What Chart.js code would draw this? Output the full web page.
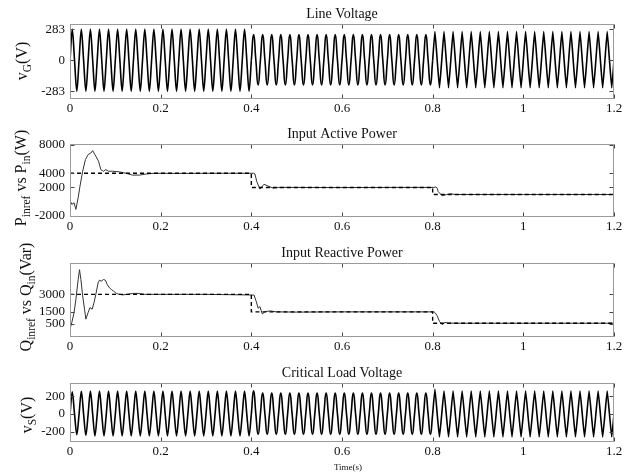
<!DOCTYPE html>
<html><head><meta charset="utf-8">
<script src="https://cdn.jsdelivr.net/npm/chart.js@4.4.1/dist/chart.umd.min.js"></script>
<style>
html,body{margin:0;padding:0;background:#fff;}
#wrap{position:relative;width:636px;height:476px;overflow:hidden;background:#fff;}
canvas{position:absolute;left:0;}
</style></head><body>
<div id="wrap">
<canvas id="c1" width="636" height="120" style="top:0px"></canvas>
<canvas id="c2" width="636" height="120" style="top:120px"></canvas>
<canvas id="c3" width="636" height="120" style="top:240px"></canvas>
<canvas id="c4" width="636" height="116" style="top:360px"></canvas>
</div>
<script>
// ---------------- DATA ----------------
const xTicks = [0, 0.2, 0.4, 0.6, 0.8, 1, 1.2];
const xTickLabels = ['0', '0.2', '0.4', '0.6', '0.8', '1', '1.2'];
const cyclePeriod = 0.02; // 50 Hz

// Line voltage: positive / negative peak of each cycle (60 cycles)
const vGPos = [283,283,283,283,283,283,283,283,283,283,283,283,283,283,283,283,283,283,283,283,
               236,236,236,236,236,236,236,236,236,236,236,236,236,236,236,236,236,236,236,236,
               262,262,262,262,262,262,262,262,262,262,262,262,262,262,262,262,262,262,262,262];
const vGNeg = [-283,-283,-283,-283,-283,-283,-283,-283,-283,-283,-283,-283,-283,-283,-283,-283,-283,-283,-283,-283,
               -226,-226,-226,-226,-226,-226,-226,-226,-226,-226,-226,-226,-226,-226,-226,-226,-226,-226,-226,-226,
               -252,-252,-252,-252,-252,-252,-252,-252,-252,-252,-252,-252,-252,-252,-252,-252,-252,-252,-252,-252];
const vGTicks = [-283, 0, 283];

// Critical load voltage
const vSPos = [250,256,258,258,258,258,258,258,258,258,258,258,258,258,258,258,258,258,258,258,
               262,237,237,237,237,237,237,237,237,237,237,237,237,237,237,237,237,237,237,237,
               280,260,260,260,260,260,260,260,260,260,260,260,260,260,260,260,260,260,260,260];
const vSNeg = [-232,-240,-246,-246,-246,-246,-246,-246,-246,-246,-246,-246,-246,-246,-246,-246,-246,-246,-246,-246,
               -228,-228,-228,-228,-228,-228,-228,-228,-228,-228,-228,-228,-228,-228,-228,-228,-228,-228,-228,-228,
               -258,-258,-258,-258,-258,-258,-258,-258,-258,-258,-258,-258,-258,-258,-258,-258,-258,-258,-258,-258];
const vSTicks = [-200, 0, 200];

// Input active power
const pTime  = [0,0.004,0.009,0.013,0.018,0.022,0.028,0.034,0.040,0.046,0.050,0.055,0.059,0.063,0.068,0.074,0.079,0.085,0.094,0.109,0.124,0.138,0.153,0.168,0.186,0.25,0.3,0.35,0.405,0.408,0.412,0.419,0.428,0.439,0.449,0.46,0.5,0.6,0.7,0.803,0.807,0.81,0.812,0.821,0.831,0.84,0.85,0.9,1.0,1.2];
const pValue = [200,-400,-170,-1100,540,2180,4300,5930,6640,6870,7200,6640,6170,5700,4520,4290,4520,4290,4290,4200,4000,3740,3740,3900,4000,3980,4000,4000,4000,3900,2830,1760,2450,2130,1900,2000,2000,1980,2000,2000,2080,1900,1430,820,1000,1100,1000,1000,1000,1000];
const pRefTime  = [0, 0.4, 0.4, 0.8, 0.8, 1.2];
const pRefValue = [4000, 4000, 2000, 2000, 1000, 1000];
const pTicks = [-2000, 2000, 4000, 8000];

// Input reactive power
const qTime  = [0,0.004,0.009,0.013,0.018,0.021,0.024,0.028,0.032,0.035,0.040,0.044,0.049,0.053,0.057,0.062,0.065,0.069,0.074,0.078,0.082,0.087,0.091,0.096,0.102,0.109,0.116,0.127,0.138,0.150,0.164,0.2,0.3,0.406,0.411,0.415,0.419,0.424,0.431,0.442,0.455,0.5,0.6,0.7,0.803,0.806,0.81,0.815,0.821,0.827,0.834,0.85,0.9,1.2];
const qValue = [36,595,1440,2575,4270,5110,4270,2860,1730,880,1440,1860,1730,2290,3000,3980,4210,4130,4270,4210,3850,3560,3420,3280,3080,3000,2950,3000,3080,3080,3000,3000,3000,2940,2370,1810,1950,1330,1530,1580,1500,1480,1500,1500,1500,1400,1160,680,400,600,540,530,530,530];
const qRefTime  = [0, 0.4, 0.4, 0.8, 0.8, 1.2];
const qRefValue = [3000, 3000, 1500, 1500, 530, 530];
const qTicks = [500, 1500, 3000];

// ---------------- HELPERS ----------------
Chart.defaults.font.family = '"Liberation Serif", "Times New Roman", serif';
Chart.defaults.color = '#111';

function wavePoints(pos, neg, c0, c1) {
  const pts = [];
  for (let k = c0; k < c1; k++) {
    const t0 = k * cyclePeriod;
    pts.push({x: t0, y: 0});
    pts.push({x: t0 + cyclePeriod / 4, y: pos[k]});
    pts.push({x: t0 + cyclePeriod / 2, y: 0});
    pts.push({x: t0 + 3 * cyclePeriod / 4, y: neg[k]});
  }
  pts.push({x: c1 * cyclePeriod, y: 0});
  return pts;
}
function pairs(xs, ys) { return xs.map((x, i) => ({x: x, y: ys[i]})); }

function waveDatasets(pos, neg) {
  const base = {borderColor: '#000', borderWidth: 1.6, pointRadius: 0, fill: false};
  return [
    Object.assign({}, base, {data: wavePoints(pos, neg, 0, 20), cubicInterpolationMode: 'monotone'}),
    Object.assign({}, base, {data: wavePoints(pos, neg, 20, 40), tension: 0.55}),
    Object.assign({}, base, {data: wavePoints(pos, neg, 40, 60), tension: 0.12})
  ];
}
function powerDatasets(rt, rv, t, v) {
  return [
    {data: pairs(rt, rv), borderColor: '#000', borderWidth: 1.4, borderDash: [4, 3], pointRadius: 0, tension: 0},
    {data: pairs(t, v), borderColor: '#333', borderWidth: 1, pointRadius: 0, tension: 0}
  ];
}

const decor = {
  id: 'decor',
  afterDraw(chart, args, o) {
    const ctx = chart.ctx, a = chart.chartArea, xs = chart.scales.x, ys = chart.scales.y;
    ctx.save();
    const L = Math.round(a.left) + 0.5, R = Math.round(a.right) - 0.5;
    const T = Math.round(a.top) + 0.5, B = Math.round(a.bottom) - 0.5;
    // inner ticks
    ctx.strokeStyle = '#444'; ctx.lineWidth = 1;
    ctx.beginPath();
    xTicks.forEach(v => {
      const px = Math.round(xs.getPixelForValue(v)) + 0.5;
      ctx.moveTo(px, T); ctx.lineTo(px, T + 4);
      ctx.moveTo(px, B); ctx.lineTo(px, B - 4);
    });
    o.yTicks.forEach(v => {
      const py = Math.round(ys.getPixelForValue(v)) + 0.5;
      ctx.moveTo(L, py); ctx.lineTo(L + 4, py);
      ctx.moveTo(R, py); ctx.lineTo(R - 4, py);
    });
    ctx.stroke();
    // frame
    ctx.strokeStyle = '#9a9a9a';
    ctx.strokeRect(L, T, R - L, B - T);
    // title
    ctx.fillStyle = '#111';
    ctx.font = '14px "Liberation Serif"';
    ctx.textAlign = 'center'; ctx.textBaseline = 'alphabetic';
    ctx.fillText(o.title, (a.left + a.right) / 2, a.top - 6);
    // y label with subscripts (rotated)
    ctx.translate(o.labelX, o.labelY);
    ctx.rotate(-Math.PI / 2);
    const mainFont = '16px "Liberation Serif"', subFont = '11.5px "Liberation Serif"';
    let total = 0;
    o.label.forEach(p => { ctx.font = p.sub ? subFont : mainFont; total += ctx.measureText(p.t).width; });
    let cx = -total / 2;
    ctx.textAlign = 'left';
    o.label.forEach(p => {
      ctx.font = p.sub ? subFont : mainFont;
      ctx.fillText(p.t, cx, p.sub ? 4 : 0);
      cx += ctx.measureText(p.t).width;
    });
    ctx.restore();
    if (o.xTitle) {
      ctx.save();
      ctx.fillStyle = '#111';
      ctx.font = '9px "Liberation Serif"';
      ctx.textAlign = 'center'; ctx.textBaseline = 'middle';
      ctx.fillText(o.xTitle, o.xTitleX, o.xTitleY);
      ctx.restore();
    }
  }
};

function makeChart(id, datasets, yMin, yMax, yTicks, padTop, xAxisH, deco) {
  deco.yTicks = yTicks;
  return new Chart(document.getElementById(id), {
    type: 'line',
    data: {datasets: datasets},
    options: {
      responsive: false, animation: false, devicePixelRatio: 1,
      layout: {padding: {top: padTop, right: 22, left: 0, bottom: 0}},
      plugins: {legend: {display: false}, tooltip: {enabled: false}, title: {display: false}, decor: deco},
      scales: {
        x: {
          type: 'linear', min: 0, max: 1.2,
          grid: {display: false, drawTicks: false}, border: {display: false},
          afterBuildTicks: s => { s.ticks = xTicks.map(v => ({value: v})); },
          afterFit: s => { s.height = xAxisH; },
          ticks: {padding: 2, font: {size: 13}, color: '#111', maxRotation: 0, autoSkip: false,
                  callback: (v, i) => xTickLabels[i]}
        },
        y: {
          type: 'linear', min: yMin, max: yMax,
          grid: {display: false, drawTicks: false}, border: {display: false},
          afterBuildTicks: s => { s.ticks = yTicks.map(v => ({value: v})); },
          afterFit: s => { s.width = 70; },
          ticks: {padding: 5, font: {size: 13}, color: '#111', autoSkip: false,
                  callback: v => String(v)}
        }
      }
    },
    plugins: [decor]
  });
}

makeChart('c1', waveDatasets(vGPos, vGNeg), -355, 332, vGTicks, 24, 21,
  {title: 'Line Voltage', labelX: 27, labelY: 61,
   label: [{t: 'v'}, {t: 'G', sub: true}, {t: '(V)'}]});
makeChart('c2', powerDatasets(pRefTime, pRefValue, pTime, pValue), -2180, 8140, pTicks, 24, 23,
  {title: 'Input Active Power', labelX: 26, labelY: 58,
   label: [{t: 'P'}, {t: 'inref', sub: true}, {t: ' vs '}, {t: 'P'}, {t: 'in', sub: true}, {t: '(W)'}]});
makeChart('c3', powerDatasets(qRefTime, qRefValue, qTime, qValue), -650, 5680, qTicks, 23, 23,
  {title: 'Input Reactive Power', labelX: 31, labelY: 57,
   label: [{t: 'Q'}, {t: 'inref', sub: true}, {t: ' vs '}, {t: 'Q'}, {t: 'in', sub: true}, {t: '(Var)'}]});
makeChart('c4', waveDatasets(vSPos, vSNeg), -315, 350, vSTicks, 23, 34,
  {title: 'Critical Load Voltage', labelX: 32, labelY: 55,
   label: [{t: 'v'}, {t: 'S', sub: true}, {t: '(V)'}],
   xTitle: 'Time(s)', xTitleX: 348, xTitleY: 108});
</script>
</body></html>
